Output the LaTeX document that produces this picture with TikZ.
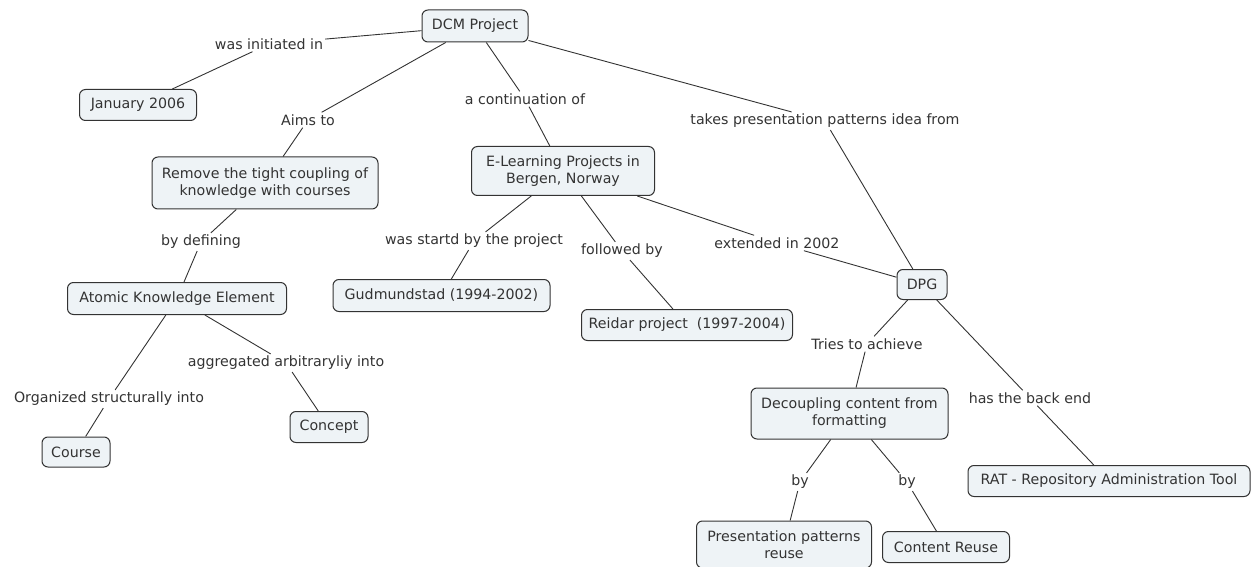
\documentclass[tikz,border=0pt]{standalone}
\usepackage{fontspec}
\setmainfont{DejaVu Sans}
\definecolor{boxfill}{HTML}{EEF3F6}
\definecolor{ink}{HTML}{333333}
\begin{document}
\begin{tikzpicture}[x=1pt,y=-1pt,
  every node/.style={font=\fontsize{14.2}{17}\selectfont, text=ink, align=center, inner sep=0pt},
  concept/.style={draw=ink, fill=boxfill, rounded corners=6pt, line width=1pt},
  linklab/.style={inner sep=2pt},
  conn/.style={draw=ink, line width=0.9pt}]
\useasboundingbox (0,0) rectangle (1254,567);
% concepts
\node[concept, minimum width=106, minimum height=32] (dcm) at (475,26) {DCM Project};
\node[concept, minimum width=117, minimum height=31] (jan) at (138,105) {January 2006};
\node[concept, minimum width=226, minimum height=52] (rem) at (265,183) {Remove the tight coupling of\\knowledge with courses};
\node[concept, minimum width=183, minimum height=49] (elp) at (563,171) {E-Learning Projects in\\Bergen, Norway};
\node[concept, minimum width=219, minimum height=32] (ake) at (177,298.5) {Atomic Knowledge Element};
\node[concept, minimum width=217, minimum height=32] (gud) at (441.5,295.5) {Gudmundstad (1994-2002)};
\node[concept, minimum width=211, minimum height=31] (rei) at (687,325) {Reidar project\ \ (1997-2004)};
\node[concept, minimum width=50, minimum height=30] (dpg) at (922,284.5) {DPG};
\node[concept, minimum width=197, minimum height=51] (dec) at (849.5,413.5) {Decoupling content from\\formatting};
\node[concept, minimum width=68, minimum height=30] (cou) at (76,452) {Course};
\node[concept, minimum width=78, minimum height=31] (con) at (329,427) {Concept};
\node[concept, minimum width=282, minimum height=31] (rat) at (1109,481) {RAT - Repository Administration Tool};
\node[concept, minimum width=175, minimum height=47] (ppr) at (784,544.5) {Presentation patterns\\reuse};
\node[concept, minimum width=127, minimum height=31] (cre) at (946,547) {Content Reuse};
% link labels
\node[linklab] (l1) at (269,44) {was initiated in};
\node[linklab] (l2) at (308,120) {Aims to};
\node[linklab] (l3) at (525,99) {a continuation of};
\node[linklab] (l4) at (825,121) {takes presentation patterns idea from};
\node[linklab] (l5) at (201,242) {by defining};
\node[linklab] (l6) at (474,241) {was startd by the project};
\node[linklab] (l7) at (622,251) {followed by};
\node[linklab] (l8) at (777,243) {extended in 2002};
\node[linklab] (l9) at (867,344) {Tries to achieve};
\node[linklab] (l10) at (109,399) {Organized structurally into};
\node[linklab] (l11) at (286,363) {aggregated arbitraryliy into};
\node[linklab] (l12) at (1030,398) {has the back end};
\node[linklab] (l13) at (800,482) {by};
\node[linklab] (l14) at (907,482) {by};
% connectors
\draw[conn] (dcm) -- (l1) -- (jan);
\draw[conn] (dcm) -- (l2) -- (rem);
\draw[conn] (dcm) -- (l3) -- (elp);
\draw[conn] (dcm) -- (l4) -- (dpg);
\draw[conn] (rem) -- (l5) -- (ake);
\draw[conn] (elp) -- (l6) -- (gud);
\draw[conn] (elp) -- (l7) -- (rei);
\draw[conn] (elp) -- (l8) -- (dpg);
\draw[conn] (dpg) -- (l9) -- (dec);
\draw[conn] (ake) -- (l10) -- (cou);
\draw[conn] (ake) -- (l11) -- (con);
\draw[conn] (dpg) -- (l12) -- (rat);
\draw[conn] (dec) -- (l13) -- (ppr);
\draw[conn] (dec) -- (l14) -- (cre);
\end{tikzpicture}
\end{document}
